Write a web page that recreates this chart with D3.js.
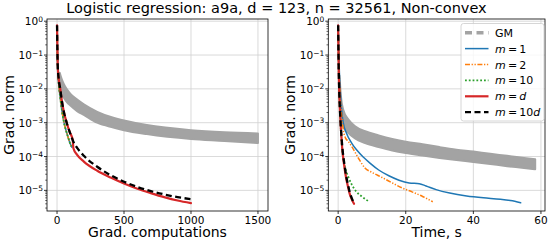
<!DOCTYPE html>
<html>
<head>
<meta charset="utf-8">
<script src="https://cdn.jsdelivr.net/npm/d3@7"></script>
<style>
  body { margin: 0; background: #fff; }
  svg { font-family: "DejaVu Sans", sans-serif; }
</style>
</head>
<body>
<svg id="chart" width="554" height="244"></svg>
<script>
// ---- data ----
const leftTicks = [0, 500, 1000, 1500];
const rightTicks = [0, 20, 40, 60];
const yTickExps = [0, -1, -2, -3, -4, -5];

// left panel: x = grad. computations
const gmLeftX  = [20, 30, 50, 75, 100, 150, 200, 300, 420, 500, 670, 1000, 1250, 1500];
const gmLeftHi = [3.0e-2, 2.2e-2, 1.4e-2, 9.5e-3, 7.1e-3, 4.8e-3, 3.5e-3, 2.1e-3, 1.4e-3, 1.17e-3, 8.5e-4, 6.0e-4, 5.2e-4, 4.8e-4];
const gmLeftLo = [1.0e-2, 7.9e-3, 5.6e-3, 4.0e-3, 3.2e-3, 2.2e-3, 1.7e-3, 1.0e-3, 7.2e-4, 6.0e-4, 4.6e-4, 3.3e-4, 2.9e-4, 2.5e-4];

const m1LeftX  = [0, 3, 8, 15, 25, 35, 50, 65, 80, 95, 110];
const m1LeftY  = [0.76, 0.1, 2.5e-2, 1.1e-2, 5.0e-3, 2.5e-3, 1.1e-3, 6.3e-4, 4.0e-4, 2.6e-4, 1.9e-4];
const m2LeftX  = [0, 3, 8, 15, 25, 35, 50, 65, 80, 95, 108];
const m2LeftY  = [0.76, 0.1, 2.5e-2, 1.1e-2, 5.0e-3, 2.5e-3, 1.1e-3, 6.3e-4, 4.0e-4, 2.6e-4, 1.95e-4];
const m10LeftX = [0, 3, 8, 15, 25, 35, 50, 65, 80, 95, 106];
const m10LeftY = [0.76, 0.1, 2.5e-2, 1.1e-2, 5.0e-3, 2.5e-3, 1.1e-3, 6.3e-4, 4.0e-4, 2.6e-4, 2.0e-4];

const mdLeftX  = [0, 5, 12, 24, 35, 52, 72, 97, 117, 122, 150, 200, 300, 400, 500, 600, 700, 800, 900, 1000];
const mdLeftY  = [0.76, 5.0e-2, 2.0e-2, 1.0e-2, 4.7e-3, 2.0e-3, 1.0e-3, 5.0e-4, 3.2e-4, 1.75e-4, 1.12e-4, 7.1e-5, 3.8e-5, 2.4e-5, 1.6e-5, 1.12e-5, 8.3e-6, 6.3e-6, 5.0e-6, 4.2e-6];
const m10dLeftX = [0, 5, 12, 24, 35, 52, 72, 97, 122, 150, 200, 300, 400, 500, 600, 700, 800, 900, 1000];
const m10dLeftY = [0.76, 5.0e-2, 2.0e-2, 1.0e-2, 4.7e-3, 2.0e-3, 1.0e-3, 5.0e-4, 2.75e-4, 1.8e-4, 1.05e-4, 5.0e-5, 2.8e-5, 1.8e-5, 1.26e-5, 9.5e-6, 7.6e-6, 6.3e-6, 5.5e-6];

// right panel: x = time, s
const gmRightX  = [0.4, 0.8, 1.5, 3, 5, 8, 12, 16, 20, 25, 30, 35, 40, 45, 50, 55, 58.3];
const gmRightHi = [2.5e-2, 6.3e-3, 2.4e-3, 1.26e-3, 7.9e-4, 5.6e-4, 4.2e-4, 3.3e-4, 2.75e-4, 2.3e-4, 1.9e-4, 1.6e-4, 1.4e-4, 1.2e-4, 1.05e-4, 9.1e-5, 8.3e-5];
const gmRightLo = [6.3e-3, 1.6e-3, 7.9e-4, 5.0e-4, 3.4e-4, 2.5e-4, 1.9e-4, 1.5e-4, 1.26e-4, 1.07e-4, 9.1e-5, 7.9e-5, 6.9e-5, 6.0e-5, 5.2e-5, 4.6e-5, 4.2e-5];

const m1RightX = [0, 0.2, 0.4, 0.7, 1.0, 1.5, 2.5, 4.0, 5.5, 7.5, 9.5, 12, 15, 18, 21, 24, 26, 29, 33, 38, 43, 48, 51, 54];
const m1RightY = [0.76, 0.1, 2.5e-2, 6.3e-3, 2.5e-3, 1.0e-3, 4.8e-4, 2.5e-4, 1.55e-4, 9.5e-5, 6.3e-5, 4.0e-5, 2.7e-5, 2.0e-5, 1.66e-5, 1.58e-5, 1.35e-5, 1.05e-5, 8.3e-6, 6.8e-6, 6.0e-6, 5.5e-6, 5.0e-6, 4.3e-6];
const m2RightX = [0, 0.3, 0.6, 1.0, 1.5, 2.2, 3.0, 4.0, 6.0, 8.0, 10, 13, 16, 19, 22, 25, 28];
const m2RightY = [0.76, 3.2e-2, 6.3e-3, 1.8e-3, 6.3e-4, 3.5e-4, 2.8e-4, 2.0e-4, 8.9e-5, 4.5e-5, 3.4e-5, 2.4e-5, 1.66e-5, 1.17e-5, 8.9e-6, 6.6e-6, 4.6e-6];
const m10RightX = [0, 0.1, 0.3, 0.6, 0.9, 1.3, 2.0, 3.0, 4.0, 5.5, 7.0, 9.2];
const m10RightY = [0.76, 0.1, 1.0e-2, 1.6e-3, 4.0e-4, 1.26e-4, 5.0e-5, 2.5e-5, 1.5e-5, 8.9e-6, 6.6e-6, 4.6e-6];
const mdRightX = [0, 0.1, 0.3, 0.5, 0.7, 0.9, 1.15, 1.4, 1.9, 2.4, 2.9, 3.4, 4.0, 4.7];
const mdRightY = [0.76, 0.1, 1.0e-2, 2.8e-3, 1.0e-3, 5.0e-4, 2.0e-4, 1.1e-4, 4.5e-5, 2.2e-5, 1.3e-5, 8.0e-6, 5.5e-6, 4.0e-6];
const m10dRightX = [0, 0.1, 0.3, 0.5, 0.7, 0.9, 1.15, 1.4, 1.9, 2.4, 2.9, 3.4, 4.0, 4.5];
const m10dRightY = [0.76, 0.1, 1.0e-2, 2.8e-3, 1.1e-3, 5.2e-4, 2.4e-4, 1.3e-4, 5.5e-5, 2.6e-5, 1.5e-5, 9.0e-6, 6.0e-6, 4.6e-6];

const legendLabels = ["GM", "m=1", "m=2", "m=10", "m=d", "m=10d"];

// ---- styles ----
const gmColor = "#a3a3a3";
const styles = {
    m1:   { color: "#1f77b4", width: 1.5, dash: null },
    m2:   { color: "#ff7f0e", width: 1.5, dash: "5,1.6,1.3,1.6,1.3,1.6" },
    m10:  { color: "#2ca02c", width: 1.8, dash: "1.8,2" },
    md:   { color: "#d62728", width: 2.2, dash: null },
    m10d: { color: "#000000", width: 2.3, dash: "6,3.5" }
};

const svg = d3.select("#chart");
const tickFont = "10.5px";
const labelFont = "14px";

const yTop = 19, yBot = 211;
const y = d3.scaleLog()
    .domain([Math.pow(10, -5.61), Math.pow(10, 0.065)])
    .range([yBot, yTop]);

function supLabel(sel, exp) {
    sel.append("tspan").text("10");
    sel.append("tspan")
        .attr("dy", "-0.45em")
        .style("font-size", "7.5px")
        .text(exp === 0 ? "0" : "\u2212" + Math.abs(exp));
}

function drawPanel(id, x0, x1, xDomain, xTicks, xLabel, series, gm) {
    const x = d3.scaleLinear().domain(xDomain).range([x0, x1]);
    const g = svg.append("g").attr("id", id);

    g.append("clipPath").attr("id", id + "-clip")
        .append("rect")
        .attr("x", x0).attr("y", yTop)
        .attr("width", x1 - x0).attr("height", yBot - yTop);

    // grid
    xTicks.forEach(t => {
        g.append("line")
            .attr("x1", x(t)).attr("x2", x(t))
            .attr("y1", yTop).attr("y2", yBot)
            .style("stroke", "#d0d0d0").style("stroke-width", 0.8);
    });
    yTickExps.forEach(e => {
        g.append("line")
            .attr("x1", x0).attr("x2", x1)
            .attr("y1", y(Math.pow(10, e))).attr("y2", y(Math.pow(10, e)))
            .style("stroke", "#d0d0d0").style("stroke-width", 0.8);
    });

    const plot = g.append("g").attr("clip-path", `url(#${id}-clip)`);

    // GM band
    const band = gm.x.map((v, i) => ({ x: v, hi: gm.hi[i], lo: gm.lo[i] }));
    plot.append("path")
        .datum(band)
        .attr("d", d3.area()
            .x(d => x(d.x))
            .y0(d => y(d.lo))
            .y1(d => y(d.hi))
            .curve(d3.curveMonotoneX))
        .style("fill", gmColor)
        .style("stroke", gmColor)
        .style("stroke-width", 2)
        .style("stroke-linejoin", "round");

    const line = d3.line()
        .x(d => x(d[0]))
        .y(d => y(d[1]))
        .curve(d3.curveMonotoneX);

    series.forEach(s => {
        const st = styles[s.key];
        const pts = s.x.map((v, i) => [v, s.y[i]]);
        plot.append("path")
            .datum(pts)
            .attr("d", line)
            .style("fill", "none")
            .style("stroke", st.color)
            .style("stroke-width", st.width)
            .style("stroke-dasharray", st.dash)
            .style("stroke-linecap", st.dash ? "butt" : "round");
    });

    // frame
    g.append("rect")
        .attr("x", x0).attr("y", yTop)
        .attr("width", x1 - x0).attr("height", yBot - yTop)
        .style("fill", "none").style("stroke", "#000").style("stroke-width", 0.8);

    // x ticks
    xTicks.forEach(t => {
        g.append("line")
            .attr("x1", x(t)).attr("x2", x(t))
            .attr("y1", yBot).attr("y2", yBot + 3)
            .style("stroke", "#000").style("stroke-width", 0.8);
        g.append("text")
            .attr("x", x(t)).attr("y", yBot + 12.5)
            .attr("text-anchor", "middle")
            .style("font-size", tickFont)
            .text(t);
    });

    // y ticks (major + minor)
    yTickExps.forEach(e => {
        const yy = y(Math.pow(10, e));
        g.append("line")
            .attr("x1", x0 - 3).attr("x2", x0)
            .attr("y1", yy).attr("y2", yy)
            .style("stroke", "#000").style("stroke-width", 0.8);
        g.append("text")
            .attr("x", x0 - 4).attr("y", yy + 4)
            .attr("text-anchor", "end")
            .style("font-size", tickFont)
            .call(supLabel, e);
    });
    for (let e = -6; e <= 0; e++) {
        for (let k = 2; k <= 9; k++) {
            const v = k * Math.pow(10, e);
            if (v < y.domain()[0] || v > y.domain()[1]) continue;
            g.append("line")
                .attr("x1", x0 - 1.8).attr("x2", x0)
                .attr("y1", y(v)).attr("y2", y(v))
                .style("stroke", "#000").style("stroke-width", 0.6);
        }
    }

    // axis labels
    g.append("text")
        .attr("x", (x0 + x1) / 2).attr("y", 237)
        .attr("text-anchor", "middle")
        .style("font-size", labelFont)
        .text(xLabel);
    g.append("text")
        .attr("transform", `translate(${x0 - 33},${(yTop + yBot) / 2}) rotate(-90)`)
        .attr("text-anchor", "middle")
        .style("font-size", labelFont)
        .text("Grad. norm");

    return x;
}

drawPanel("left", 47, 268, [-75, 1575], leftTicks, "Grad. computations", [
    { key: "m1", x: m1LeftX, y: m1LeftY },
    { key: "m2", x: m2LeftX, y: m2LeftY },
    { key: "m10", x: m10LeftX, y: m10LeftY },
    { key: "md", x: mdLeftX, y: mdLeftY },
    { key: "m10d", x: m10dLeftX, y: m10dLeftY }
], { x: gmLeftX, hi: gmLeftHi, lo: gmLeftLo });

drawPanel("right", 328.3, 545, [-2.915, 61.2], rightTicks, "Time, s", [
    { key: "m1", x: m1RightX, y: m1RightY },
    { key: "m2", x: m2RightX, y: m2RightY },
    { key: "m10", x: m10RightX, y: m10RightY },
    { key: "md", x: mdRightX, y: mdRightY },
    { key: "m10d", x: m10dRightX, y: m10dRightY }
], { x: gmRightX, hi: gmRightHi, lo: gmRightLo });

// title
svg.append("text")
    .attr("x", 276.5).attr("y", 12.5)
    .attr("text-anchor", "middle")
    .style("font-size", "14.5px")
    .text("Logistic regression: a9a, d = 123, n = 32561, Non-convex");

// legend
const legend = svg.append("g").attr("id", "legend");
legend.append("rect")
    .attr("x", 461).attr("y", 23.5)
    .attr("width", 83).attr("height", 97.5)
    .attr("rx", 2.5)
    .style("fill", "#fff").style("fill-opacity", 0.8)
    .style("stroke", "#cccccc").style("stroke-width", 0.8);

const legendKeys = ["gm", "m1", "m2", "m10", "md", "m10d"];
legendKeys.forEach((k, i) => {
    const ly = 32.7 + i * 15.9;
    const st = k === "gm" ? { color: gmColor, width: 3.5, dash: "7,4.5" } : styles[k];
    legend.append("line")
        .attr("x1", 465).attr("x2", 488.5)
        .attr("y1", ly).attr("y2", ly)
        .style("stroke", st.color)
        .style("stroke-width", st.width)
        .style("stroke-dasharray", st.dash);
    const t = legend.append("text")
        .attr("x", 495).attr("y", ly + 4)
        .style("font-size", "11px");
    const lab = legendLabels[i];
    if (lab === "GM") {
        t.text(lab);
    } else {
        const rhs = lab.split("=")[1];
        t.append("tspan").style("font-style", "italic").text("m");
        t.append("tspan").text("\u2009=\u2009");
        if (rhs.endsWith("d")) {
            if (rhs.length > 1) t.append("tspan").text(rhs.slice(0, -1));
            t.append("tspan").style("font-style", "italic").text("d");
        } else {
            t.append("tspan").text(rhs);
        }
    }
});
</script>
</body>
</html>
